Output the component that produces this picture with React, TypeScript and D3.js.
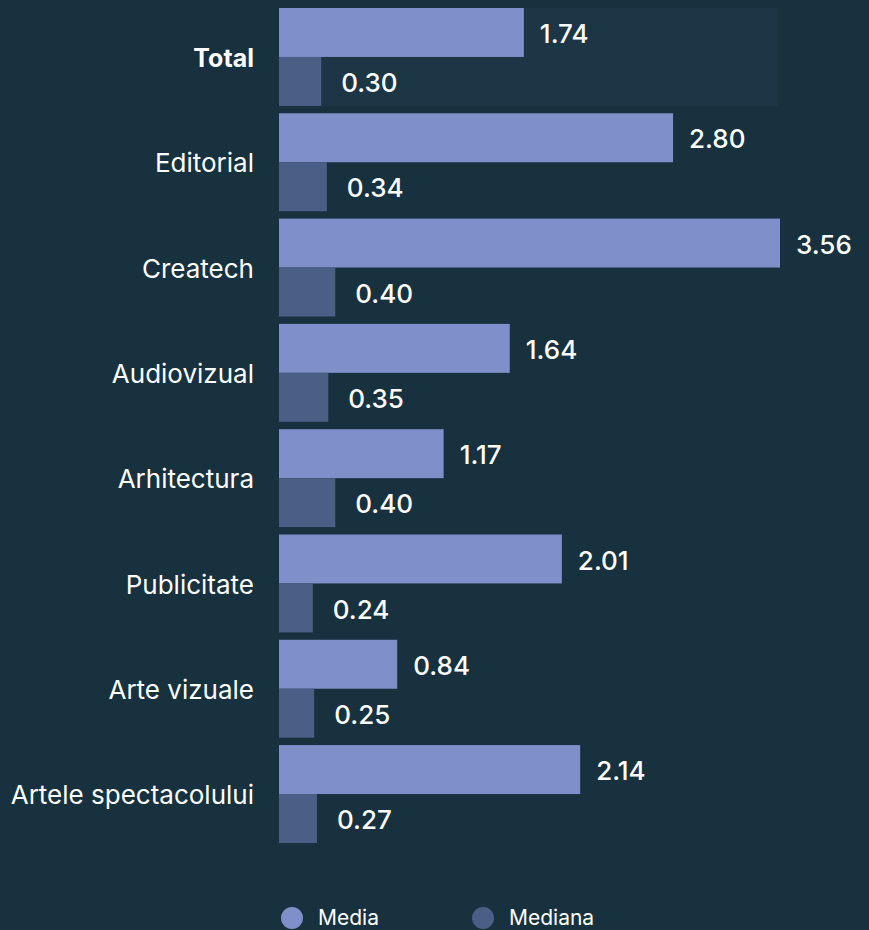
import React from "react";
import * as d3 from "d3";

const categories = ["Total", "Editorial", "Createch", "Audiovizual", "Arhitectura", "Publicitate", "Arte vizuale", "Artele spectacolului"];
const media = [1.74, 2.8, 3.56, 1.64, 1.17, 2.01, 0.84, 2.14];
const mediana = [0.3, 0.34, 0.4, 0.35, 0.4, 0.24, 0.25, 0.27];
const seriesNames = ["Media", "Mediana"];

const W = 869;
const H = 930;
const BG = "#17313f";
const C_MEDIA = "#7e8fc9";
const C_MED = "#4a5f85";
const FONT = "Inter, 'Open Sans', sans-serif";

export default function App() {
  const x = d3.scaleLinear().domain([0, 3.56]).range([279, 780]);
  const y = d3.scaleBand<string>().domain(categories).range([8, 843]).paddingInner(0.07).paddingOuter(0);
  const bw = y.bandwidth();
  const hl = y("Total")!;
  return (
    <div style={{ position: "absolute", left: 0, top: 0, width: W, height: H, background: BG }}>
      <svg width={W} height={H} style={{ display: "block" }} fontFamily={FONT}>
        <rect x={0} y={0} width={W} height={H} fill={BG} />
        <rect x={x(0)} y={hl} width={x(3.545) - x(0)} height={bw} fill="#1c3646" />
        {categories.map((c, i) => {
          const y0 = y(c)!;
          const h = bw / 2;
          return (
            <g key={c}>
              <text x={254} y={y0 + bw / 2 + 1} dy="0.35em" textAnchor="end" fill="#ffffff" fontSize={c === "Total" ? 25 : 26} fontWeight={c === "Total" ? 700 : 400}>
                {c}
              </text>
              <rect x={x(0)} y={y0} width={x(media[i]) - x(0)} height={h} fill={C_MEDIA} />
              <rect x={x(0)} y={y0 + h} width={x(mediana[i]) - x(0)} height={h} fill={C_MED} />
              <text x={x(media[i]) + 16} y={y0 + h / 2 + 1.5} dy="0.35em" fill="#ffffff" fontSize={26} fontWeight={500}>
                {media[i].toFixed(2)}
              </text>
              <text x={x(mediana[i]) + 20} y={y0 + h + h / 2 + 1.5} dy="0.35em" fill="#ffffff" fontSize={26} fontWeight={500}>
                {mediana[i].toFixed(2)}
              </text>
            </g>
          );
        })}
        {seriesNames.map((s, i) => (
          <g key={s} transform={`translate(${292 + i * 191},918)`}>
            <circle cx={0} cy={0} r={11} fill={i === 0 ? C_MEDIA : C_MED} />
            <text x={26} y={0} dy="0.35em" fill="#ffffff" fontSize={21}>
              {s}
            </text>
          </g>
        ))}
      </svg>
    </div>
  );
}
